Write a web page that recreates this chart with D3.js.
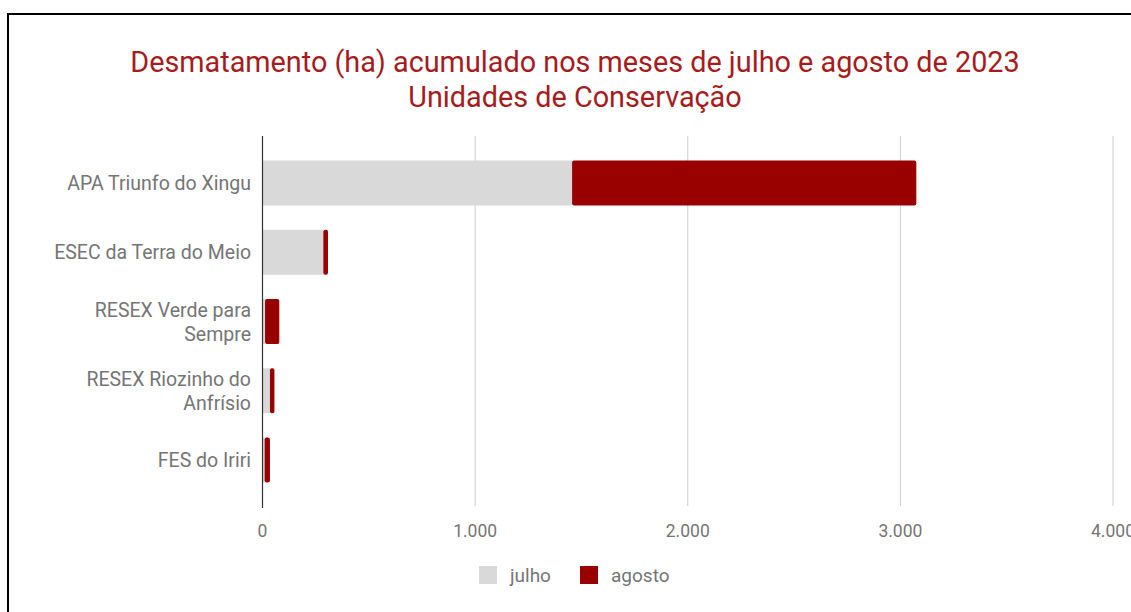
<!DOCTYPE html>
<html>
<head>
<meta charset="utf-8">
<script src="https://cdn.jsdelivr.net/npm/d3@7"></script>
<style>
body { margin: 0; background: #fff; }
svg { display: block; font-family: Roboto, sans-serif; }
</style>
</head>
<body>
<svg id="chart" width="1131" height="612"></svg>
<script>
var categories = ["APA Triunfo do Xingu", "ESEC da Terra do Meio", "RESEX Verde para Sempre", "RESEX Riozinho do Anfrísio", "FES do Iriri"];
var labelLines = [["APA Triunfo do Xingu"], ["ESEC da Terra do Meio"], ["RESEX Verde para", "Sempre"], ["RESEX Riozinho do", "Anfrísio"], ["FES do Iriri"]];
var julho = [1456, 286, 12, 35, 10];
var agosto = [1619, 22, 67, 21, 25];
var seriesNames = ["julho", "agosto"];
var seriesColors = ["#d9d9d9", "#990000"];
var ticks = [0, 1000, 2000, 3000, 4000];
var titleLines = ["Desmatamento (ha) acumulado nos meses de julho e agosto de 2023", "Unidades de Conservação"];

var svg = d3.select("#chart");

// moldura
svg.append("rect")
	.attr("x", 8).attr("y", 14)
	.attr("width", 1140).attr("height", 620)
	.attr("fill", "none")
	.attr("stroke", "#000")
	.attr("stroke-width", 2);

svg.selectAll("text.title")
	.data(titleLines)
	.enter().append("text")
		.attr("class", "title")
		.attr("x", 575)
		.attr("y", function(d, i){ return 72 + i * 35; })
		.attr("text-anchor", "middle")
		.attr("fill", "#a61c1c")
		.attr("font-size", 28.8)
		.text(function(d){ return d; });

var x = d3.scaleLinear().domain([0, 4000]).range([262.5, 1113]);
var y = d3.scaleBand().domain(categories).range([148.4, 494.6]).paddingInner(0.35).paddingOuter(0.175);

var table = categories.map(function(c, i){ return {cat: c, julho: julho[i], agosto: agosto[i]}; });
var stacked = d3.stack().keys(seriesNames)(table);

// grade
svg.append("g")
	.selectAll("line")
	.data(ticks.slice(1))
	.enter().append("line")
		.attr("x1", function(d){ return x(d); })
		.attr("x2", function(d){ return x(d); })
		.attr("y1", 136).attr("y2", 506)
		.attr("stroke", "#cccccc")
		.attr("stroke-width", 1);

svg.append("g")
	.selectAll("text")
	.data(ticks)
	.enter().append("text")
		.attr("x", function(d){ return x(d); })
		.attr("y", 537)
		.attr("text-anchor", "middle")
		.attr("fill", "#757575")
		.attr("font-size", 17.5)
		.text(function(d){ return d3.format(",")(d).replace(/,/g, "."); });

svg.selectAll("g.serie")
	.data(stacked)
	.enter().append("g")
		.attr("class", "serie")
		.attr("fill", function(d, i){ return seriesColors[i]; })
	.selectAll("rect")
	.data(function(d){ return d; })
	.enter().append("rect")
		.attr("x", function(d){ return x(d[0]); })
		.attr("y", function(d){ return y(d.data.cat); })
		.attr("width", function(d){ return x(d[1]) - x(d[0]); })
		.attr("height", y.bandwidth())
		.attr("rx", function(d, i){ return d3.select(this.parentNode).datum().key === "agosto" ? 2 : 0; });

// eixo vertical
svg.append("line")
	.attr("x1", 262.5).attr("x2", 262.5)
	.attr("y1", 136).attr("y2", 508)
	.attr("stroke", "#333")
	.attr("stroke-width", 1.2);

var lab = svg.append("g")
	.selectAll("text")
	.data(labelLines)
	.enter().append("text")
		.attr("text-anchor", "end")
		.attr("fill", "#757575")
		.attr("font-size", 19.5)
		.attr("transform", function(d, i){
			var cy = y(categories[i]) + y.bandwidth() / 2;
			return "translate(251," + (cy + 7 - (d.length - 1) * 12) + ")";
		});
lab.selectAll("tspan")
	.data(function(d){ return d; })
	.enter().append("tspan")
		.attr("x", 0)
		.attr("dy", function(d, i){ return i ? 24 : 0; })
		.text(function(d){ return d; });

// legenda
var leg = svg.append("g")
	.selectAll("g")
	.data(seriesNames)
	.enter().append("g")
		.attr("transform", function(d, i){ return "translate(" + (479 + i * 101) + ",566)"; });
leg.append("rect")
	.attr("width", 18).attr("height", 18)
	.attr("fill", function(d, i){ return seriesColors[i]; });
leg.append("text")
	.attr("x", 31).attr("y", 16)
	.attr("fill", "#757575")
	.attr("font-size", 19)
	.text(function(d){ return d; });
</script>
</body>
</html>
